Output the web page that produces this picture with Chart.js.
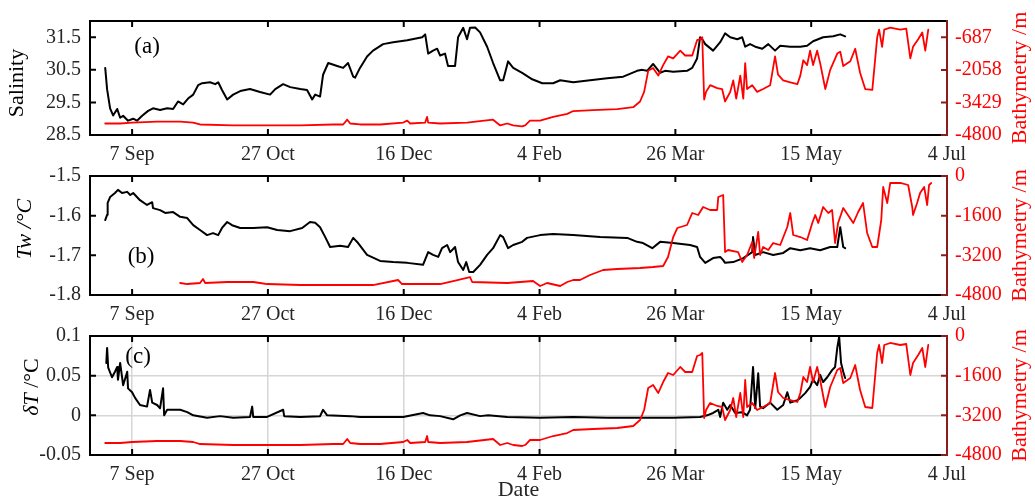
<!DOCTYPE html>
<html>
<head>
<meta charset="utf-8">
<title>Salinity, Tw and dT with bathymetry</title>
<script src="https://cdn.jsdelivr.net/npm/chart.js@4.4.1/dist/chart.umd.min.js"></script>
<style>
  body { margin: 0; background: #fff; }
  #wrap { position: relative; width: 1035px; height: 501px; overflow: hidden; }
  #wrap canvas { position: absolute; left: 0; }
</style>
</head>
<body>
<div id="wrap">
  <canvas id="panelA" width="1035" height="172" style="top:0"></canvas>
  <canvas id="panelB" width="1035" height="180" style="top:150px"></canvas>
  <canvas id="panelC" width="1035" height="191" style="top:310px"></canvas>
</div>
<script>
// days counted from 7 Sep
var xTickDays = [0, 50, 100, 150, 200, 250, 300];
var xTickLabels = ['7 Sep', '27 Oct', '16 Dec', '4 Feb', '26 Mar', '15 May', '4 Jul'];

// (a) salinity
var salDays = [-9.9, -9.2, -8.1, -7.0, -5.5, -4.4, -3.3, -1.5, 0.4, 1.8,
  3.7, 5.9, 7.7, 10.3, 12.9, 15.1, 16.9, 18.8, 20.6, 22.5,
  24.3, 25.8, 28.7, 30.6, 31.7, 33.1, 35.0, 37.2, 39.8, 43.4,
  47.1, 50.8, 52.7, 55.6, 58.2, 61.9, 64.4, 66.3, 67.4, 69.2,
  70.3, 72.2, 75.5, 77.7, 79.5, 81.4, 82.1, 83.9, 86.5, 88.7,
  92.4, 96.1, 101.3, 106.8, 107.9, 109.0, 110.8, 112.3, 113.4, 115.2,
  116.3, 118.9, 120.0, 121.9, 123.3, 124.4, 126.3, 128.1, 130.7, 132.9,
  135.5, 136.6, 138.4, 140.3, 143.6, 147.3, 151.0, 155.0, 157.6, 162.4,
  168.6, 174.9, 180.8, 185.9, 187.8, 189.6, 191.8, 194.4, 196.2, 199.2,
  204.3, 206.2, 208.0, 209.1, 209.9, 211.0, 213.9, 216.5, 218.3, 220.2,
  222.8, 224.6, 225.7, 227.5, 229.4, 232.0, 234.2, 236.7, 238.6, 242.3,
  246.0, 248.5, 250.7, 254.4, 258.1, 260.7, 262.5];
var salVals = [30.56, 29.90, 29.32, 29.10, 29.30, 29.03, 29.09, 28.94, 29.00, 28.94,
  29.09, 29.24, 29.32, 29.27, 29.32, 29.30, 29.53, 29.44, 29.62, 29.74,
  30.03, 30.09, 30.12, 30.06, 30.12, 29.88, 29.59, 29.74, 29.85, 29.91,
  29.82, 29.74, 29.91, 30.06, 29.97, 29.91, 29.88, 29.59, 29.74, 29.68,
  30.35, 30.71, 30.62, 30.56, 30.71, 30.29, 30.26, 30.56, 30.91, 31.09,
  31.29, 31.35, 31.41, 31.50, 31.59, 31.00, 31.09, 31.15, 30.94, 31.00,
  30.62, 30.62, 31.50, 31.79, 31.44, 31.79, 31.80, 31.65, 31.21, 30.71,
  30.18, 30.18, 30.76, 30.56, 30.41, 30.21, 30.09, 30.09, 30.18, 30.12,
  30.18, 30.24, 30.29, 30.47, 30.50, 30.47, 30.68, 30.41, 30.47, 30.44,
  30.47, 30.56, 30.85, 31.50, 31.44, 31.29, 31.09, 31.35, 31.62, 31.50,
  31.44, 31.50, 31.21, 31.29, 31.21, 31.15, 31.29, 31.09, 31.24, 31.21,
  31.21, 31.24, 31.38, 31.50, 31.53, 31.59, 31.53];

// bathymetry along the track, panels (a) and (c)
var bathyDays = [-9.9, -8.1, -4.4, 0, 9.2, 17.7, 22.5, 25.0, 37.2, 49.7,
  61.9, 74.0, 77.7, 79.2, 80.3, 83.9, 91.3, 99.8, 101.3, 102.4,
  107.9, 108.6, 109.0, 113.4, 123.3, 132.9, 135.5, 138.1, 140.3, 143.6,
  144.7, 146.5, 150.2, 155.0, 160.2, 162.4, 169.7, 178.6, 184.5, 187.0,
  188.5, 190.0, 191.8, 193.7, 195.5, 197.3, 199.2, 201.8, 203.6, 206.2,
  208.0, 209.1, 209.9, 210.6, 211.3, 212.8, 215.4, 217.2, 218.3, 220.2,
  221.3, 222.4, 223.9, 225.0, 225.7, 226.4, 228.3, 230.1, 232.3, 234.9,
  236.7, 237.8, 239.7, 242.3, 244.9, 246.0, 247.1, 248.5, 249.6, 250.7,
  252.2, 253.3, 255.2, 257.0, 259.6, 260.7, 261.8, 264.4, 266.2, 268.0,
  269.9, 272.5, 274.3, 275.0, 276.1, 276.9, 279.1, 282.8, 285.0, 286.5,
  287.5, 289.4, 290.9, 292.0, 293.1];
var bathyVals = [-4316, -4316, -4316, -4276, -4235, -4235, -4276, -4357, -4397, -4397,
  -4397, -4357, -4357, -4155, -4316, -4357, -4357, -4276, -4195, -4316,
  -4276, -4034, -4276, -4316, -4276, -4155, -4397, -4316, -4397, -4437,
  -4397, -4195, -4195, -4034, -3913, -3792, -3752, -3711, -3630, -3389,
  -2985, -2098, -1977, -2299, -1856, -1493, -1573, -1250, -1452, -1452,
  -807, -766, -686, -3308, -2985, -2703, -2823, -2864, -3389, -2985,
  -2501, -3268, -2299, -3268, -1775, -2864, -2703, -2985, -2864, -2703,
  -1493, -2259, -2501, -2582, -2662, -2299, -1654, -1856, -1250, -1856,
  -1250, -1775, -2864, -2057, -1372, -1291, -1896, -1694, -1170, -2178,
  -2864, -2904, -686, -363, -1089, -363, -282, -363, -323, -1573,
  -1089, -766, -484, -1250, -363];

// (b) water temperature
var twDays = [-9.9, -9.2, -9.0, -8.1, -6.3, -5.2, -3.7, -1.8, -0.7, 0.4,
  2.9, 5.5, 7.4, 7.7, 10.3, 12.2, 15.1, 17.7, 20.3, 22.5,
  25.0, 27.6, 29.8, 31.7, 33.1, 35.0, 36.8, 39.8, 44.6, 49.7,
  53.4, 58.2, 62.6, 65.5, 67.4, 69.2, 71.1, 72.9, 76.6, 79.5,
  81.4, 83.2, 86.5, 91.3, 96.1, 101.3, 107.1, 109.0, 110.8, 112.7,
  114.1, 116.0, 117.1, 118.9, 120.0, 121.9, 123.0, 124.1, 125.6, 128.1,
  130.7, 132.9, 135.5, 136.6, 138.4, 140.3, 143.6, 145.4, 150.2, 155.0,
  162.4, 172.3, 182.3, 185.9, 188.1, 191.5, 194.4, 199.2, 205.4, 208.0,
  209.1, 211.0, 213.9, 216.5, 217.6, 218.3, 221.3, 225.0, 228.3, 228.6,
  229.4, 232.3, 236.0, 239.7, 242.3, 246.0, 249.6, 253.3, 257.0, 259.6,
  260.7, 261.8, 262.5];
var twVals = [-1.611, -1.598, -1.568, -1.553, -1.543, -1.535, -1.543, -1.540, -1.548, -1.543,
  -1.561, -1.573, -1.566, -1.581, -1.586, -1.593, -1.591, -1.603, -1.606, -1.624,
  -1.636, -1.649, -1.644, -1.649, -1.631, -1.616, -1.624, -1.631, -1.631, -1.629,
  -1.636, -1.639, -1.631, -1.616, -1.618, -1.629, -1.654, -1.679, -1.676, -1.679,
  -1.656, -1.669, -1.699, -1.714, -1.717, -1.719, -1.724, -1.692, -1.699, -1.704,
  -1.682, -1.674, -1.692, -1.679, -1.717, -1.737, -1.717, -1.742, -1.742, -1.724,
  -1.699, -1.682, -1.649, -1.654, -1.682, -1.674, -1.666, -1.656, -1.649, -1.646,
  -1.649, -1.654, -1.656, -1.666, -1.669, -1.682, -1.666, -1.669, -1.674, -1.679,
  -1.704, -1.719, -1.707, -1.704, -1.712, -1.719, -1.717, -1.707, -1.692, -1.654,
  -1.699, -1.692, -1.699, -1.694, -1.682, -1.687, -1.682, -1.687, -1.679, -1.679,
  -1.629, -1.679, -1.682];

// bathymetry as plotted in panel (b)
var bathyBDays = [17.7, 20.3, 25.0, 26.1, 26.9, 35.0, 44.6, 47.1, 49.7, 61.9,
  74.0, 83.9, 88.7, 97.9, 99.4, 113.4, 118.2, 124.4, 125.2, 138.1,
  147.6, 150.2, 152.8, 157.6, 160.2, 162.4, 164.9, 168.6, 173.4, 178.6,
  187.0, 191.8, 195.5, 197.3, 199.2, 200.7, 204.3, 206.2, 208.4, 210.2,
  212.8, 215.4, 215.8, 217.6, 218.3, 219.4, 223.1, 224.6, 226.4, 228.3,
  229.0, 230.5, 231.2, 232.3, 234.2, 236.0, 238.6, 241.2, 242.3, 243.4,
  246.0, 248.5, 250.4, 251.5, 252.6, 254.4, 256.3, 257.7, 258.8, 259.9,
  261.8, 265.5, 267.3, 269.1, 270.6, 272.5, 274.3, 275.8, 276.5, 278.0,
  279.1, 282.8, 285.7, 287.2, 287.5, 289.0, 290.1, 291.6, 292.7, 293.4,
  294.2];
var bathyBVals = [-4316, -4357, -4316, -4155, -4316, -4276, -4276, -4316, -4357, -4397,
  -4397, -4397, -4397, -4195, -4357, -4357, -4236, -4074, -4276, -4316,
  -4236, -4437, -4316, -4437, -4276, -4195, -4195, -3994, -3792, -3752,
  -3711, -3671, -3630, -3268, -2461, -2098, -1977, -1493, -1573, -1251,
  -1372, -1372, -847, -766, -3066, -2985, -3066, -3469, -3187, -2662,
  -3308, -2259, -3187, -2864, -2985, -2703, -2783, -2057, -1493, -2380,
  -2461, -2582, -1896, -1573, -1896, -1251, -1493, -1372, -2703, -1896,
  -1291, -1896, -1452, -1089, -2299, -2864, -2864, -1775, -444, -1089,
  -282, -282, -363, -1251, -1573, -1089, -686, -444, -1170, -363,
  -282];

// (c) temperature difference
var dtDays = [-9.5, -9.2, -8.8, -7.4, -6.3, -5.5, -5.2, -4.4, -3.3, -1.8,
  -1.5, 0, 1.1, 2.9, 5.5, 6.6, 7.4, 9.2, 10.3, 11.4,
  11.8, 12.9, 17.7, 20.3, 22.5, 27.6, 32.4, 37.2, 43.4, 44.2,
  44.6, 49.7, 55.6, 56.0, 61.9, 69.2, 70.3, 71.8, 80.3, 83.9,
  91.3, 99.8, 107.1, 109.7, 113.4, 118.2, 120.8, 123.3, 128.1, 131.1,
  138.1, 150.2, 162.4, 174.9, 187.0, 199.2, 209.1, 211.7, 213.9, 215.8,
  216.5, 217.6, 219.1, 220.2, 222.0, 224.6, 226.4, 227.5, 228.6, 229.4,
  230.5, 231.2, 232.3, 233.8, 234.9, 237.5, 239.7, 241.2, 242.3, 244.9,
  246.0, 247.8, 249.6, 250.7, 252.2, 253.3, 254.4, 255.9, 257.7, 258.8,
  259.6, 260.3, 261.0, 261.8, 262.5];
var dtVals = [0.066, 0.085, 0.060, 0.048, 0.055, 0.061, 0.045, 0.066, 0.038, 0.055,
  0.034, 0.029, 0.022, 0.013, 0.011, 0.032, 0.016, 0.013, 0.009, 0.034,
  0.000, 0.007, 0.007, 0.004, 0.000, -0.003, -0.001, -0.003, -0.002, 0.011,
  -0.002, -0.002, 0.007, -0.001, -0.002, -0.001, 0.007, 0.000, -0.001, -0.002,
  -0.002, -0.002, 0.003, 0.000, -0.001, -0.005, 0.000, 0.003, -0.001, 0.000,
  -0.002, -0.003, -0.002, -0.003, -0.003, -0.003, -0.002, 0.000, 0.003, 0.007,
  -0.002, 0.016, 0.007, 0.013, 0.003, 0.004, 0.000, 0.007, 0.061, 0.009,
  0.053, 0.011, 0.009, 0.013, 0.016, 0.007, 0.013, 0.029, 0.016, 0.019,
  0.022, 0.028, 0.036, 0.045, 0.038, 0.051, 0.042, 0.048, 0.057, 0.061,
  0.085, 0.099, 0.066, 0.055, 0.047];

// axis ticks
var salTicks = [28.5, 29.5, 30.5, 31.5];
var salTickLabels = ['28.5', '29.5', '30.5', '31.5'];
var twTicks = [-1.8, -1.7, -1.6, -1.5];
var twTickLabels = ['-1.8', '-1.7', '-1.6', '-1.5'];
var dtTicks = [-0.05, 0, 0.05, 0.1];
var dtTickLabels = ['-0.05', '0', '0.05', '0.1'];
var bathyTicksA = [-4800, -3429, -2058, -687];
var bathyTickLabelsA = ['-4800', '-3429', '-2058', '-687'];
var bathyTicks = [-4800, -3200, -1600, 0];
var bathyTickLabels = ['-4800', '-3200', '-1600', '0'];

var RED = '#ff0000';
var DARKRED = '#8b1c1c';
var SERIF = "'Liberation Serif', 'Times New Roman', serif";

function pts(days, vals) {
    return days.map(function (d, i) { return {x: d, y: vals[i]}; });
}

function setTicks(values) {
    return function (scale) {
        scale.ticks = values.map(function (v) { return {value: v}; });
    };
}

function framePlugin(cfg) {
    return {
        id: 'frame',
        afterDraw: function (chart) {
            var ctx = chart.ctx, a = chart.chartArea;
            var x = chart.scales.x, yl = chart.scales.yL, yr = chart.scales.yR;
            ctx.save();
            ctx.lineWidth = 2;
            ctx.lineCap = 'butt';

            // black box and inward ticks
            ctx.strokeStyle = '#000';
            ctx.beginPath();
            ctx.moveTo(a.right, a.top);
            ctx.lineTo(a.left, a.top);
            ctx.lineTo(a.left, a.bottom);
            ctx.lineTo(a.right, a.bottom);
            x.ticks.forEach(function (t) {
                var px = x.getPixelForValue(t.value);
                ctx.moveTo(px, a.bottom); ctx.lineTo(px, a.bottom - 6);
                ctx.moveTo(px, a.top); ctx.lineTo(px, a.top + 6);
            });
            yl.ticks.forEach(function (t) {
                var py = yl.getPixelForValue(t.value);
                ctx.moveTo(a.left, py); ctx.lineTo(a.left + 6, py);
            });
            ctx.stroke();

            // right axis in dark red
            ctx.strokeStyle = DARKRED;
            ctx.beginPath();
            ctx.moveTo(a.right, a.top - 1);
            ctx.lineTo(a.right, a.bottom + 1);
            yr.ticks.forEach(function (t) {
                var py = yr.getPixelForValue(t.value);
                ctx.moveTo(a.right, py); ctx.lineTo(a.right - 6, py);
            });
            ctx.stroke();

            ctx.textBaseline = 'middle';

            // left axis title (mixed italic parts)
            ctx.save();
            ctx.translate(cfg.titleX, cfg.titleY);
            ctx.rotate(-Math.PI / 2);
            var total = 0;
            cfg.title.forEach(function (p) {
                ctx.font = (p[1] ? 'italic ' : '') + '22px ' + SERIF;
                total += ctx.measureText(p[0]).width;
            });
            var pos = -total / 2;
            ctx.fillStyle = '#000';
            ctx.textAlign = 'left';
            cfg.title.forEach(function (p) {
                ctx.font = (p[1] ? 'italic ' : '') + '22px ' + SERIF;
                ctx.fillText(p[0], pos, 0);
                pos += ctx.measureText(p[0]).width;
            });
            ctx.restore();

            // right axis title
            ctx.save();
            ctx.translate(a.right + 73, (a.top + a.bottom) / 2);
            ctx.rotate(-Math.PI / 2);
            ctx.font = '22px ' + SERIF;
            ctx.fillStyle = RED;
            ctx.textAlign = 'center';
            ctx.fillText('Bathymetry /m', 0, 0);
            ctx.restore();

            // panel letter, placed in data units
            ctx.font = '23px ' + SERIF;
            ctx.fillStyle = '#000';
            ctx.textAlign = 'center';
            ctx.fillText(cfg.letter[0], x.getPixelForValue(cfg.letter[1]), yl.getPixelForValue(cfg.letter[2]));
            ctx.restore();
        }
    };
}

function panel(id, cfg) {
    var gridColor = cfg.grid ? '#d6d6d6' : 'rgba(0,0,0,0)';
    new Chart(document.getElementById(id), {
        type: 'line',
        data: {
            datasets: [{
                data: pts(cfg.rDays, cfg.rVals),
                yAxisID: 'yR',
                borderColor: RED,
                borderWidth: 1.8
            }, {
                data: pts(cfg.lDays, cfg.lVals),
                yAxisID: 'yL',
                borderColor: '#000',
                borderWidth: 2
            }]
        },
        options: {
            responsive: false,
            animation: false,
            devicePixelRatio: 1,
            layout: {padding: {top: cfg.padTop, left: 0, right: 0, bottom: 0}},
            elements: {
                point: {radius: 0},
                line: {tension: 0, fill: false, borderJoinStyle: 'round', borderCapStyle: 'round'}
            },
            plugins: {legend: {display: false}, tooltip: {enabled: false}},
            scales: {
                x: {
                    type: 'linear',
                    min: -15.5,
                    max: 300,
                    afterBuildTicks: setTicks(xTickDays),
                    afterFit: function (s) { s.height = cfg.xHeight; },
                    grid: {display: cfg.grid, color: gridColor, lineWidth: 1.5, drawTicks: false},
                    border: {display: false},
                    ticks: {
                        autoSkip: false, maxRotation: 0, padding: 8, color: '#262626',
                        font: {family: SERIF, size: 20},
                        callback: function (v, i) { return xTickLabels[i]; }
                    },
                    title: {
                        display: cfg.xTitle, text: 'Date', color: '#262626',
                        font: {family: SERIF, size: 22, lineHeight: 1}, padding: 0
                    }
                },
                yL: {
                    type: 'linear',
                    position: 'left',
                    min: cfg.lMin,
                    max: cfg.lMax,
                    afterBuildTicks: setTicks(cfg.lTicks),
                    afterFit: function (s) { s.width = 90; },
                    grid: {display: cfg.grid, color: gridColor, lineWidth: 1.5, drawTicks: false},
                    border: {display: false},
                    ticks: {
                        padding: 9, color: '#262626',
                        font: {family: SERIF, size: 20},
                        callback: function (v, i) { return cfg.lLabels[i]; }
                    }
                },
                yR: {
                    type: 'linear',
                    position: 'right',
                    min: -4800,
                    max: 0,
                    afterBuildTicks: setTicks(cfg.rTicks),
                    afterFit: function (s) { s.width = 88; },
                    grid: {display: false, drawTicks: false},
                    border: {display: false},
                    ticks: {
                        padding: 8, color: RED,
                        font: {family: SERIF, size: 20},
                        callback: function (v, i) { return cfg.rLabels[i]; }
                    }
                }
            }
        },
        plugins: [framePlugin(cfg)]
    });
}

// canvases overlap slightly so the date labels are not cut off
panel('panelA', {
    lDays: salDays, lVals: salVals, rDays: bathyDays, rVals: bathyVals,
    lMin: 28.5, lMax: 32, lTicks: salTicks, lLabels: salTickLabels,
    rTicks: bathyTicksA, rLabels: bathyTickLabelsA,
    title: [['Salinity', false]], titleX: 17, titleY: 83,
    letter: ['(a)', 5.5, 31.2], padTop: 16, xHeight: 37, xTitle: false, grid: false
});

panel('panelB', {
    lDays: twDays, lVals: twVals, rDays: bathyBDays, rVals: bathyBVals,
    lMin: -1.8, lMax: -1.5, lTicks: twTicks, lLabels: twTickLabels,
    rTicks: bathyTicks, rLabels: bathyTickLabels,
    title: [['Tw /\u00b0C', true]], titleX: 25, titleY: 79,
    letter: ['(b)', 3.3, -1.704], padTop: 26, xHeight: 35, xTitle: false, grid: false
});

panel('panelC', {
    lDays: dtDays, lVals: dtVals, rDays: bathyDays, rVals: bathyVals,
    lMin: -0.05, lMax: 0.1, lTicks: dtTicks, lLabels: dtTickLabels,
    rTicks: bathyTicks, rLabels: bathyTickLabels,
    title: [['\u03b4T', true], [' /\u00b0C', false]], titleX: 32, titleY: 77,
    letter: ['(c)', 2.2, 0.0735], padTop: 26, xHeight: 46, xTitle: true, grid: true
});
</script>
</body>
</html>
